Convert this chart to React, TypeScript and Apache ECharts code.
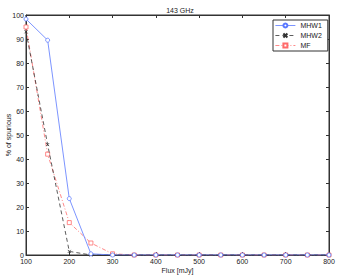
import React, { useEffect, useRef } from "react";
import * as echarts from "echarts";

const flux = [100, 150, 200, 250, 300, 350, 400, 450, 500, 550, 600, 650, 700, 750, 800];
const mhw1 = [98.3, 89.5, 23.5, 0.5, 0, 0, 0, 0, 0, 0, 0, 0, 0, 0, 0];
const mhw2 = [93, 46, 1.5, 0, 0, 0, 0, 0, 0, 0, 0, 0, 0, 0, 0];
const mf = [95, 42, 13.5, 5, 0.5, 0, 0, 0, 0, 0, 0, 0, 0, 0, 0];
const seriesNames = ["MHW1", "MHW2", "MF"];

const FONT = "Liberation Sans, Arial, sans-serif";

export default function App() {
  const ref = useRef<HTMLDivElement>(null);
  useEffect(() => {
    if (!ref.current) return;
    const chart = echarts.init(ref.current, undefined, { renderer: "svg" });
    const pairs = (ys: number[]) => flux.map((x, i) => [x, ys[i]]);
    const axisCommon = {
      type: "value" as const,
      axisLine: { show: true, onZero: false, lineStyle: { color: "#333", width: 1 } },
      axisTick: { show: true, inside: true, length: 3, lineStyle: { color: "#333" } },
      splitLine: { show: false },
    };
    chart.setOption({
      animation: false,
      backgroundColor: "#fff",
      title: {
        text: "143 GHz",
        left: 175,
        top: 2,
        textAlign: "center",
        textStyle: { fontSize: 7, fontWeight: "normal", color: "#222", fontFamily: FONT },
      },
      grid: {
        left: 26,
        right: 9,
        top: 15,
        bottom: 20,
        show: true,
        borderColor: "#333",
        borderWidth: 1,
        containLabel: false,
        outerBoundsMode: "none",
      },
      legend: {
        data: seriesNames,
        orient: "vertical",
        left: 273,
        top: 20,
        itemWidth: 20,
        itemHeight: 5,
        itemGap: 3,
        padding: [2, 6, 2, 2],
        borderColor: "#333",
        borderWidth: 1,
        backgroundColor: "#fff",
        lineStyle: { width: 0.8 },
        textStyle: { fontSize: 7, color: "#222", fontFamily: FONT },
      },
      xAxis: [
        {
          ...axisCommon,
          min: 100,
          max: 800,
          interval: 100,
          name: "Flux [mJy]",
          nameLocation: "middle",
          nameGap: 15,
          nameMoveOverlap: false,
          nameTextStyle: { fontSize: 7, color: "#222", fontFamily: FONT, verticalAlign: "middle" },
          axisLabel: { fontSize: 7, color: "#222", margin: 3, fontFamily: FONT },
        },
        {
          ...axisCommon,
          position: "top",
          min: 100,
          max: 800,
          interval: 100,
          axisLabel: { show: false },
        },
      ],
      yAxis: [
        {
          ...axisCommon,
          min: 0,
          max: 100,
          interval: 10,
          name: "% of spurious",
          nameLocation: "middle",
          nameGap: 14,
          nameMoveOverlap: false,
          nameTextStyle: { fontSize: 7, color: "#222", fontFamily: FONT, verticalAlign: "bottom" },
          axisLabel: { fontSize: 7, color: "#222", margin: 2, fontFamily: FONT },
        },
        {
          ...axisCommon,
          position: "right",
          min: 0,
          max: 100,
          interval: 10,
          axisLabel: { show: false },
        },
      ],
      series: [
        {
          name: "MHW1",
          type: "line",
          data: pairs(mhw1),
          symbol: "circle",
          symbolSize: 4,
          lineStyle: { color: "#5a78ff", width: 0.8, type: "solid" },
          itemStyle: { color: "#fff", borderColor: "#5a78ff", borderWidth: 0.8 },
          color: "#5a78ff",
          z: 3,
        },
        {
          name: "MHW2",
          type: "line",
          data: pairs(mhw2),
          symbol: "path://M0,0L10,10M10,0L0,10",
          symbolSize: 3,
          lineStyle: { color: "#333", width: 0.8, type: [4, 3] },
          itemStyle: { color: "#333", borderColor: "#333", borderWidth: 0.8 },
          color: "#333",
          z: 2,
        },
        {
          name: "MF",
          type: "line",
          data: pairs(mf),
          symbol: "rect",
          symbolSize: 4,
          lineStyle: { color: "#ff6b6b", width: 0.8, type: [4, 2, 1, 2] },
          itemStyle: { color: "#fff", borderColor: "#ff6b6b", borderWidth: 0.8 },
          color: "#ff6b6b",
          z: 1,
        },
      ],
    });
    return () => chart.dispose();
  }, []);
  return <div ref={ref} style={{ width: 338, height: 275, position: "absolute", left: 0, top: 0 }} />;
}
